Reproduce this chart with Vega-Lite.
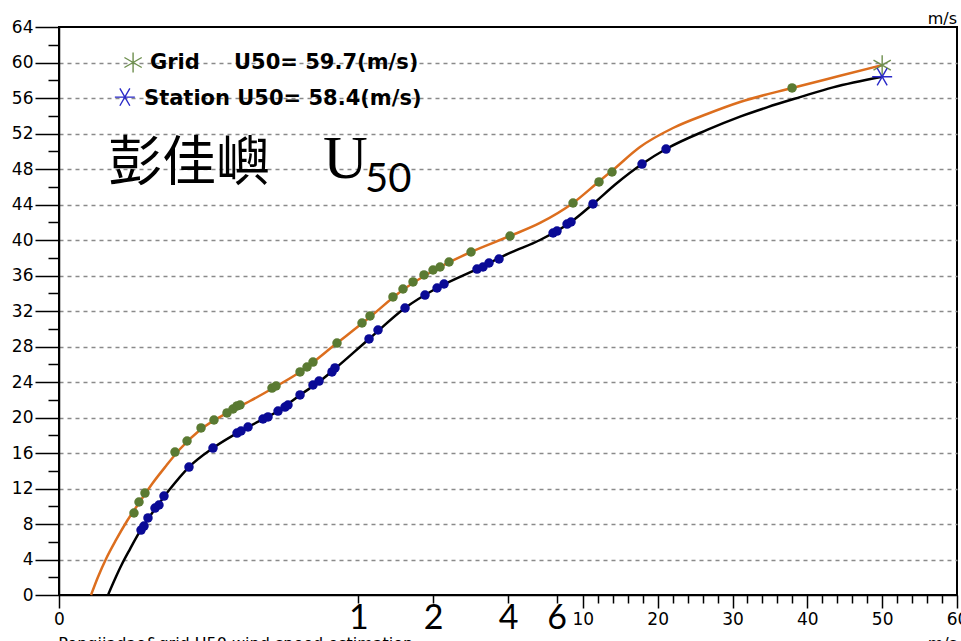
{
  "$schema": "https://vega.github.io/schema/vega-lite/v6.json",
  "width": 898,
  "height": 568,
  "autosize": {"type": "none"},
  "padding": {"left": 59, "top": 27, "right": 4, "bottom": 46},
  "background": "white",
  "title": {"text": "Pengjiayu&grid  U50 wind speed estimation", "anchor": "start", "frame": "group", "offset": 3, "baseline": "alphabetic", "font": "DejaVu Sans", "fontSize": 16, "fontWeight": "normal", "color": "#000"},
  "config": {"view": {"stroke": "#000", "strokeWidth": 2}, "axis": {"labelOverlap": false, "labelBound": false, "labelFlush": false}},
  "datasets": {
    "curves": [
      {"s":"Grid","x":-55.72,"y":0},{"s":"Grid","x":-54.79,"y":2.03},{"s":"Grid","x":-53.72,"y":4.06},{"s":"Grid","x":-52.38,"y":6.2},{"s":"Grid","x":-50.91,"y":8.34},{"s":"Grid","x":-49.31,"y":10.37},{"s":"Grid","x":-47.57,"y":12.51},{"s":"Grid","x":-45.7,"y":14.54},{"s":"Grid","x":-43.83,"y":16.45},{"s":"Grid","x":-41.16,"y":18.59},{"s":"Grid","x":-37.55,"y":20.51},{"s":"Grid","x":-34.48,"y":21.86},{"s":"Grid","x":-31.13,"y":23.44},{"s":"Grid","x":-27.79,"y":25.13},{"s":"Grid","x":-22.85,"y":28.39},{"s":"Grid","x":-18.44,"y":31.32},{"s":"Grid","x":-14.43,"y":34.14},{"s":"Grid","x":-9.08,"y":36.96},{"s":"Grid","x":-4.94,"y":38.65},{"s":"Grid","x":0.27,"y":40.45},{"s":"Grid","x":4.28,"y":41.92},{"s":"Grid","x":8.69,"y":44.17},{"s":"Grid","x":12.16,"y":46.6},{"s":"Grid","x":13.9,"y":47.8},{"s":"Grid","x":17.64,"y":50.48},{"s":"Grid","x":22.05,"y":52.62},{"s":"Grid","x":26.6,"y":54.2},{"s":"Grid","x":31.01,"y":55.55},{"s":"Grid","x":37.96,"y":57.13},{"s":"Grid","x":44.37,"y":58.5},{"s":"Grid","x":50,"y":59.7},
      {"s":"Station","x":-53.45,"y":0},{"s":"Station","x":-52.52,"y":1.8},{"s":"Station","x":-51.58,"y":3.49},{"s":"Station","x":-50.51,"y":5.18},{"s":"Station","x":-49.31,"y":6.99},{"s":"Station","x":-48.11,"y":8.56},{"s":"Station","x":-46.77,"y":10.14},{"s":"Station","x":-45.17,"y":11.94},{"s":"Station","x":-42.63,"y":14.42},{"s":"Station","x":-39.42,"y":16.56},{"s":"Station","x":-34.74,"y":18.93},{"s":"Station","x":-30.73,"y":20.73},{"s":"Station","x":-27.79,"y":22.54},{"s":"Station","x":-25.12,"y":24.1},{"s":"Station","x":-23.12,"y":25.5},{"s":"Station","x":-18.57,"y":28.85},{"s":"Station","x":-13.76,"y":32.34},{"s":"Station","x":-9.48,"y":34.59},{"s":"Station","x":-4.14,"y":36.73},{"s":"Station","x":0.27,"y":38.54},{"s":"Station","x":4.28,"y":40.0},{"s":"Station","x":8.42,"y":42.03},{"s":"Station","x":11.36,"y":44.06},{"s":"Station","x":14.57,"y":46.42},{"s":"Station","x":17.91,"y":48.56},{"s":"Station","x":21.12,"y":50.25},{"s":"Station","x":26.6,"y":52.4},{"s":"Station","x":31.01,"y":53.9},{"s":"Station","x":34.61,"y":54.95},{"s":"Station","x":39.02,"y":56.1},{"s":"Station","x":43.43,"y":57.2},{"s":"Station","x":50,"y":58.4}
    ],
    "dots": [
      {"s":"Grid","x":-49.98,"y":9.24},{"s":"Grid","x":-49.31,"y":10.48},{"s":"Grid","x":-48.51,"y":11.49},{"s":"Grid","x":-44.5,"y":16.11},{"s":"Grid","x":-42.89,"y":17.35},{"s":"Grid","x":-41.02,"y":18.82},{"s":"Grid","x":-39.29,"y":19.72},{"s":"Grid","x":-37.55,"y":20.51},{"s":"Grid","x":-36.75,"y":20.96},{"s":"Grid","x":-36.21,"y":21.3},{"s":"Grid","x":-35.81,"y":21.41},{"s":"Grid","x":-31.54,"y":23.32},{"s":"Grid","x":-31.0,"y":23.55},{"s":"Grid","x":-27.79,"y":25.13},{"s":"Grid","x":-26.86,"y":25.69},{"s":"Grid","x":-26.06,"y":26.25},{"s":"Grid","x":-22.85,"y":28.39},{"s":"Grid","x":-19.51,"y":30.65},{"s":"Grid","x":-18.44,"y":31.44},{"s":"Grid","x":-15.37,"y":33.58},{"s":"Grid","x":-14.03,"y":34.48},{"s":"Grid","x":-12.69,"y":35.27},{"s":"Grid","x":-11.22,"y":36.06},{"s":"Grid","x":-10.02,"y":36.62},{"s":"Grid","x":-9.08,"y":36.96},{"s":"Grid","x":-7.88,"y":37.52},{"s":"Grid","x":-4.94,"y":38.65},{"s":"Grid","x":0.27,"y":40.45},{"s":"Grid","x":8.69,"y":44.17},{"s":"Grid","x":12.16,"y":46.54},{"s":"Grid","x":13.9,"y":47.66},{"s":"Grid","x":37.96,"y":57.13},
      {"s":"Station","x":-49.04,"y":7.32},{"s":"Station","x":-48.64,"y":7.77},{"s":"Station","x":-48.11,"y":8.68},{"s":"Station","x":-47.17,"y":9.8},{"s":"Station","x":-46.64,"y":10.14},{"s":"Station","x":-45.97,"y":11.15},{"s":"Station","x":-42.63,"y":14.42},{"s":"Station","x":-39.42,"y":16.56},{"s":"Station","x":-36.21,"y":18.25},{"s":"Station","x":-35.68,"y":18.48},{"s":"Station","x":-34.74,"y":18.93},{"s":"Station","x":-32.74,"y":19.83},{"s":"Station","x":-32.07,"y":20.06},{"s":"Station","x":-30.73,"y":20.73},{"s":"Station","x":-29.8,"y":21.18},{"s":"Station","x":-29.4,"y":21.41},{"s":"Station","x":-27.79,"y":22.54},{"s":"Station","x":-26.06,"y":23.66},{"s":"Station","x":-25.25,"y":24.11},{"s":"Station","x":-23.52,"y":25.13},{"s":"Station","x":-23.12,"y":25.58},{"s":"Station","x":-18.57,"y":28.85},{"s":"Station","x":-17.37,"y":29.86},{"s":"Station","x":-13.76,"y":32.34},{"s":"Station","x":-11.09,"y":33.8},{"s":"Station","x":-9.48,"y":34.59},{"s":"Station","x":-8.55,"y":35.04},{"s":"Station","x":-4.14,"y":36.73},{"s":"Station","x":-3.34,"y":36.96},{"s":"Station","x":-2.54,"y":37.41},{"s":"Station","x":-1.2,"y":37.86},{"s":"Station","x":6.02,"y":40.79},{"s":"Station","x":6.55,"y":41.01},{"s":"Station","x":7.89,"y":41.8},{"s":"Station","x":8.42,"y":42.03},{"s":"Station","x":11.36,"y":44.06},{"s":"Station","x":17.91,"y":48.56},{"s":"Station","x":21.12,"y":50.25}
    ],
    "stars": [
      {"s":"Grid","x":50,"y":59.7},{"s":"Grid","x":-50.1,"y":60.0},
      {"s":"Station","x":50,"y":58.4},{"s":"Station","x":-51.2,"y":56.1}
    ]
  },
  "encoding": {
    "x": {"field": "x", "type": "quantitative", "scale": {"domain": [-60, 60], "nice": false, "zero": false},
      "axis": {
        "title": null, "grid": false,
        "values": [-60,-20,-10,0,6.5,10,12,14,16,18,20,22,24,26,28,30,32,34,36,38,40,42,44,46,48,50,52,54,56,58,60],
        "labelExpr": "datum.value==-60?'0':datum.value==-20?'1':datum.value==-10?'2':datum.value==0?'4':datum.value==6.5?'6':(datum.value%10==0?datum.label:'')",
        "domainColor": "#000", "domainWidth": 1.5, "tickColor": "#000", "tickWidth": 1.5,
        "tickSize": {"condition": {"test": "datum.value==-60 || (datum.value>=10 && datum.value%10==0)", "value": 13}, "value": 8},
        "labelFontSize": {"condition": {"test": "datum.value>-60 && datum.value<10", "value": 34}, "value": 17},
        "labelFont": {"condition": {"test": "datum.value>-60 && datum.value<10", "value": "Liberation Sans Narrow, Lato"}, "value": "DejaVu Sans"},
        "labelPadding": {"condition": {"test": "datum.value>-60 && datum.value<10", "value": -2}, "value": 3},
        "labelColor": "#000", "labelOverlap": false, "labelFlush": false, "labelBound": false
      }
    },
    "y": {"field": "y", "type": "quantitative", "scale": {"domain": [0, 64], "nice": false, "zero": false},
      "axis": {
        "title": null, "grid": true,
        "values": [0,2,4,6,8,10,12,14,16,18,20,22,24,26,28,30,32,34,36,38,40,42,44,46,48,50,52,54,56,58,60,62,64],
        "labelExpr": "datum.value%4==0?datum.label:''",
        "gridDash": [4, 4], "gridColor": "#8a8a8a", "gridWidth": 1.3,
        "gridOpacity": {"condition": {"test": "datum.value%4==0 && datum.value>0 && datum.value<64", "value": 1}, "value": 0},
        "domainColor": "#000", "domainWidth": 1.5, "tickColor": "#000", "tickWidth": 1.5,
        "tickSize": {"condition": {"test": "datum.value%4==0", "value": 24}, "value": 11},
        "labelFont": "DejaVu Sans", "labelFontSize": 17, "labelPadding": 2, "labelColor": "#000",
        "labelOverlap": false, "labelBound": false, "labelFlush": false
      }
    }
  },
  "layer": [
    {
      "data": {"name": "curves"},
      "mark": {"type": "line", "strokeWidth": 2.5, "interpolate": "monotone"},
      "encoding": {
        "stroke": {"field": "s", "type": "nominal", "scale": {"domain": ["Grid", "Station"], "range": ["#DC6E1E", "#000000"]}, "legend": null}
      }
    },
    {
      "data": {"name": "dots"},
      "mark": {"type": "point", "shape": "circle", "filled": true, "size": 90, "opacity": 1, "strokeWidth": 0},
      "encoding": {
        "fill": {"field": "s", "type": "nominal", "scale": {"domain": ["Grid", "Station"], "range": ["#5A7A32", "#0A0A96"]}, "legend": null}
      }
    },
    {
      "data": {"name": "stars"},
      "transform": [{"filter": "datum.s=='Grid'"}],
      "mark": {"type": "point", "filled": false, "size": 400, "strokeWidth": 1.4, "color": "#6E8F4E", "opacity": 1, "shape": "M0,-1L0,1M-0.866,-0.5L0.866,0.5M-0.866,0.5L0.866,-0.5"}
    },
    {
      "data": {"name": "stars"},
      "transform": [{"filter": "datum.s=='Station'"}],
      "mark": {"type": "point", "filled": false, "size": 400, "strokeWidth": 1.4, "color": "#2A2AC8", "opacity": 1, "shape": "M-1,0L1,0M-0.5,-0.866L0.5,0.866M-0.5,0.866L0.5,-0.866"}
    },
    {
      "data": {"values": [
        {"x": -47.84, "y": 59.3, "t": "Grid"},
        {"x": -36.61, "y": 59.3, "t": "U50= 59.7(m/s)"},
        {"x": -48.64, "y": 55.21, "t": "Station U50= 58.4(m/s)"}
      ]},
      "mark": {"type": "text", "font": "DejaVu Sans", "fontWeight": "bold", "fontSize": 21, "align": "left", "baseline": "alphabetic", "color": "#000"},
      "encoding": {"text": {"field": "t"}}
    },
    {
      "data": {"values": [{"x": -53.45, "y": 46.65, "t": "彭佳嶼"}]},
      "mark": {"type": "text", "font": "Noto Sans CJK TC", "fontSize": 54, "align": "left", "baseline": "alphabetic", "color": "#000"},
      "encoding": {"text": {"field": "t"}}
    },
    {
      "data": {"values": [{"x": -24.72, "y": 46.99, "t": "U"}]},
      "mark": {"type": "text", "font": "Liberation Serif", "fontSize": 62, "align": "left", "baseline": "alphabetic", "color": "#000"},
      "encoding": {"text": {"field": "t"}}
    },
    {
      "data": {"values": [{"x": -19.11, "y": 45.41, "t": "50"}]},
      "mark": {"type": "text", "font": "Lato", "fontSize": 40, "align": "left", "baseline": "alphabetic", "color": "#000"},
      "encoding": {"text": {"field": "t"}}
    },
    {
      "data": {"values": [{"x": 60, "y": 64, "t": "m/s"}]},
      "mark": {"type": "text", "font": "DejaVu Sans", "fontSize": 16, "align": "right", "baseline": "alphabetic", "dy": -3, "color": "#000"},
      "encoding": {"text": {"field": "t"}}
    },
    {
      "data": {"values": [
        {"x": -60.1, "y": -6.1, "t": "Pengjiadao&grid  U50 wind speed estimation"}
      ]},
      "mark": {"type": "text", "font": "DejaVu Sans", "fontSize": 16, "align": "left", "baseline": "alphabetic", "color": "#000"},
      "encoding": {"text": {"field": "t"}}
    },
    {
      "data": {"values": [{"x": 60, "y": -6.1, "t": "m/s"}]},
      "mark": {"type": "text", "font": "DejaVu Sans", "fontSize": 16, "align": "right", "baseline": "alphabetic", "color": "#000"},
      "encoding": {"text": {"field": "t"}}
    }
  ]
}
